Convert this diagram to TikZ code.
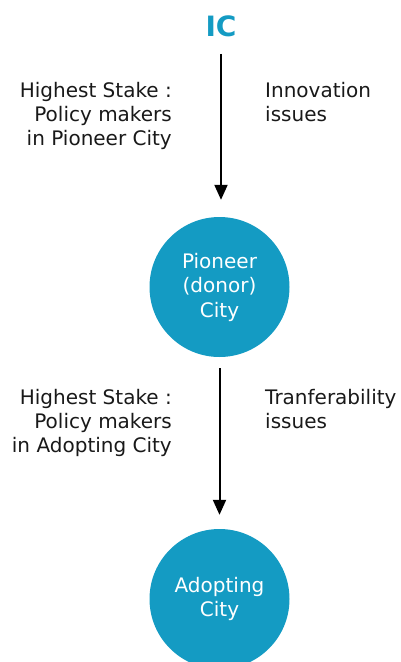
\documentclass[tikz,border=0pt]{standalone}
\usepackage{fontspec}
\setmainfont{DejaVu Sans}
\usetikzlibrary{arrows.meta}
\definecolor{icblue}{RGB}{20,155,195}
\definecolor{txt}{RGB}{25,25,25}
\begin{document}
\begin{tikzpicture}[x=1pt,y=-1pt,
  lbl/.style={font=\fontsize{20}{24}\selectfont, text=txt, inner sep=0pt},
  city/.style={circle, fill=icblue, minimum size=140pt, inner sep=0pt, text=white, align=center, font=\fontsize{20}{24.5}\selectfont},
  arr/.style={line width=2pt, -{Triangle[length=15pt,width=13pt]}}]
\useasboundingbox (0,0) rectangle (400,662);
\clip (0,0) rectangle (400,662);
\node[font=\bfseries\fontsize{28}{32}\selectfont, text=icblue, inner sep=0pt] (ic) at (221,26) {IC};
\node[city] (pioneer) at (219.5,287) {Pioneer\\(donor)\\City};
\node[city] (adopting) at (219.5,599) {Adopting\\City};
\draw[arr, shorten <=17pt, shorten >=17pt] (ic) -- (ic |- pioneer.north);
\draw[arr, shorten <=11pt, shorten >=14pt] (pioneer) -- (adopting);
\node[lbl, align=right, anchor=base east] (l1) at (172,145) {Highest Stake :\\Policy makers\\in Pioneer City};
\node[lbl, align=left, anchor=base west] (r1) at (265,121) {Innovation\\issues};
\node[lbl, align=right, anchor=base east] (l2) at (172,452) {Highest Stake :\\Policy makers\\in Adopting City};
\node[lbl, align=left, anchor=base west] (r2) at (265,428) {Tranferability\\issues};
\end{tikzpicture}
\end{document}
